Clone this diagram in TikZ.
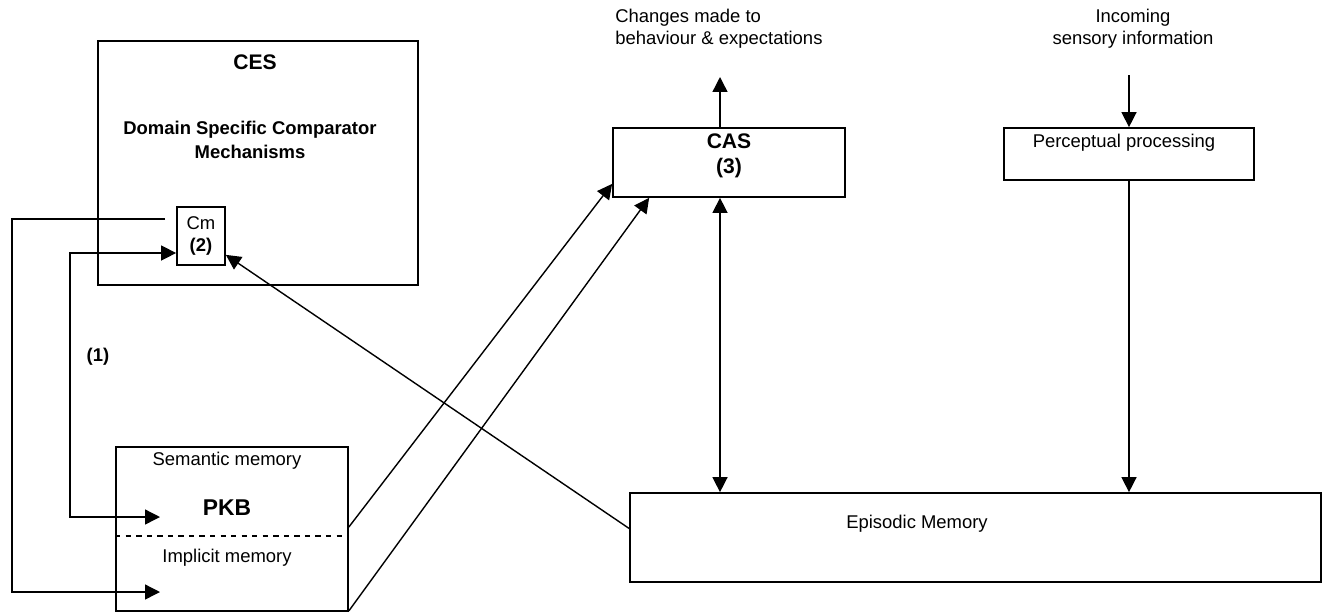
\documentclass[tikz,border=0pt]{standalone}
\usepackage{fontspec}
\setmainfont{Liberation Sans}
\usetikzlibrary{arrows.meta, calc}

\begin{document}
\begin{tikzpicture}[x=0.02cm, y=-0.02cm,
    box/.style={draw, line width=1pt, inner sep=0pt},
    txt/.style={font=\fontsize{10.5}{12.6}\selectfont, inner sep=0pt, align=center},
    btxt/.style={font=\fontsize{10.5}{13.6}\selectfont\bfseries, inner sep=0pt, align=center},
    big/.style={font=\fontsize{12}{14.2}\selectfont\bfseries, inner sep=0pt, align=center},
    arr/.style={line width=0.8pt, -{Triangle[length=8.5pt, width=8.5pt]}},
    darr/.style={line width=0.8pt, {Triangle[length=8.5pt, width=8.5pt]}-{Triangle[length=8.5pt, width=8.5pt]}}]

    \useasboundingbox (0,0) rectangle (1324,613);

    % CES
    \node[box, minimum width=6.4cm, minimum height=4.88cm] (ces) at (258,163) {};
    \node[big] (cestitle) at (255,62) {CES};
    \node[btxt] (dscm) at (250,140) {Domain Specific Comparator\\Mechanisms};

    % comparator mechanism
    \node[box, minimum width=0.96cm, minimum height=1.16cm, txt] (cm) at (201,236) {Cm\\\textbf{(2)}};

    % PKB
    \node[box, minimum width=4.64cm, minimum height=3.28cm] (pkb) at (232,529) {};
    \node[txt] (sem) at (227,461) {Semantic memory};
    \node[font=\fontsize{13}{15}\selectfont\bfseries, inner sep=0pt] (pkbtitle) at (227,508) {PKB};
    \node[txt] (imp) at (227,558) {Implicit memory};
    \draw[dashed, line width=0.8pt] (pkb.west |- 0,536) -- (pkb.east |- 0,536);

    % CAS
    \node[box, minimum width=4.64cm, minimum height=1.38cm] (cas) at (729,162.5) {};
    \node[big] (castitle) at (729,156) {CAS\\(3)};

    % perceptual processing
    \node[box, minimum width=5.0cm, minimum height=1.04cm] (perc) at (1129,154) {};
    \node[txt] (perctitle) at (1124,143) {Perceptual processing};

    % episodic memory
    \node[box, minimum width=13.82cm, minimum height=1.78cm] (epi) at (975.5,537.5) {};
    \node[txt] (epititle) at (917,524) {Episodic Memory};

    % outer labels
    \node[txt, align=left, anchor=west] (chgtext) at (615,29) {Changes made to\\behaviour \& expectations};
    \node[txt] (inctext) at (1133,29) {Incoming\\sensory information};
    \node[btxt] (one) at (98,357) {(1)};

    % connectors
    \coordinate (chg) at (720,77);
    \coordinate (inc) at (1129,75);
    \draw[arr] (cas.north -| chg) -- (chg);
    \draw[arr] (inc) -- (perc.north);
    \draw[arr] (perc.south) -- (perc.south |- epi.north);
    \draw[darr] (cas.south -| chg) -- (chg |- epi.north);
    \draw[arr] ($(pkb.east)+(0,-2)$) -- ($(cas.south west)+(0,-14)$);
    \draw[arr] ($(pkb.south east)+(0,-1)$) -- ($(cas.south west)+(37,0)$);
    \draw[arr] ($(epi.west)+(0,-9)$) -- ($(cm.south east)+(0,-11)$);

    \coordinate (lft) at (12,219);
    \coordinate (impin) at (160,592);
    \draw[arr] ($(cm.west)+(-11,-17)$) -- (lft) |- (impin);

    \coordinate (semin) at (160,517);
    \coordinate (crn) at (70,253);
    \draw[darr] (semin) -| (crn) -- ($(cm.west)+(0,17)$);
\end{tikzpicture}
\end{document}
